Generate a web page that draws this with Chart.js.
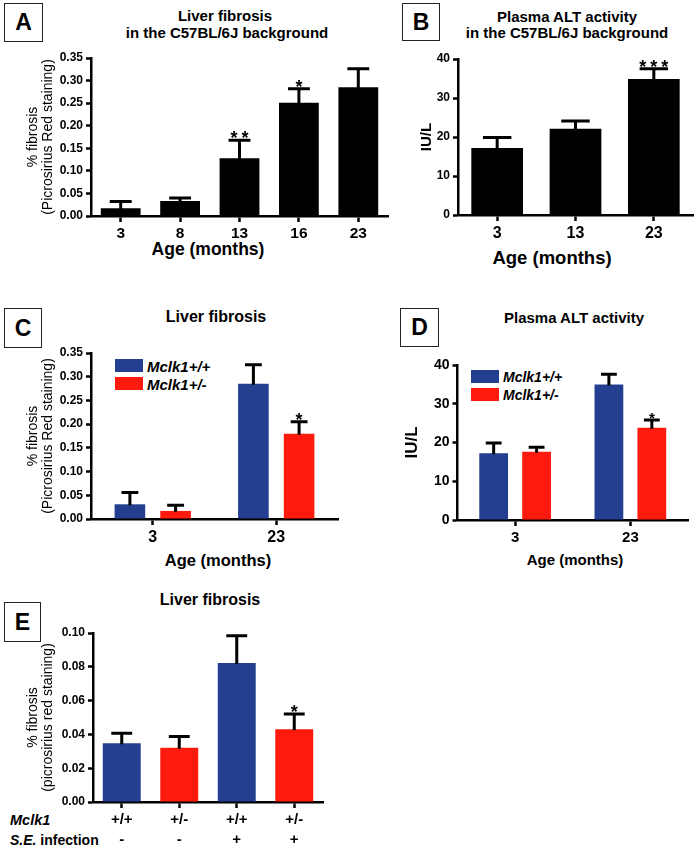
<!DOCTYPE html>
<html><head><meta charset="utf-8">
<script src="https://cdn.jsdelivr.net/npm/chart.js@4.4.1/dist/chart.umd.min.js"></script>
<style>
html,body{margin:0;padding:0;background:#fff;}
#page{position:relative;width:697px;height:849px;overflow:hidden;font-family:"Liberation Sans",Arial,sans-serif;color:#000;background:#fff;}
canvas{position:absolute;}
.box{position:absolute;border:1px solid #222;box-sizing:border-box;font-weight:bold;font-size:23px;display:flex;align-items:center;justify-content:center;background:#fff;}
.t{position:absolute;font-weight:bold;white-space:nowrap;transform:translate(-50%,-50%);line-height:1;}
.l{position:absolute;font-weight:bold;white-space:nowrap;transform:translate(0,-50%);line-height:1;}
.sw{position:absolute;}
</style>
</head><body>
<div id="page">
  <div class="box" style="left:4px;top:3px;width:39px;height:39px;">A</div>
  <div class="box" style="left:402px;top:3px;width:38px;height:38px;">B</div>
  <div class="box" style="left:4px;top:308px;width:38px;height:40px;">C</div>
  <div class="box" style="left:400px;top:308px;width:39px;height:39px;">D</div>
  <div class="box" style="left:4px;top:602px;width:37px;height:40px;">E</div>

  <div class="t" style="left:225px;top:15px;font-size:15px;">Liver fibrosis</div>
  <div class="t" style="left:227px;top:32px;font-size:15px;">in the C57BL/6J background</div>
  <div class="t" style="left:567px;top:16px;font-size:15px;">Plasma ALT activity</div>
  <div class="t" style="left:567px;top:32px;font-size:15px;">in the C57BL/6J background</div>
  <div class="t" style="left:216px;top:317px;font-size:16px;">Liver fibrosis</div>
  <div class="t" style="left:574px;top:317px;font-size:15px;">Plasma ALT activity</div>
  <div class="t" style="left:210px;top:600px;font-size:16px;">Liver fibrosis</div>

  <div class="t" style="left:208px;top:250px;font-size:17.5px;">Age (months)</div>
  <div class="t" style="left:552px;top:258px;font-size:18.5px;">Age (months)</div>
  <div class="t" style="left:218px;top:560px;font-size:16.5px;">Age (months)</div>
  <div class="t" style="left:575px;top:559px;font-size:15px;">Age (months)</div>

  <div class="l" style="left:10px;top:820px;font-size:14.5px;font-style:italic;">Mclk1</div>
  <div class="l" style="left:10px;top:840px;font-size:14px;"><span style="font-style:italic">S.E.</span> infection</div>

  <div id="legC"></div>
  <div id="legD"></div>

  <canvas id="cA"></canvas>
  <canvas id="cB"></canvas>
  <canvas id="cC"></canvas>
  <canvas id="cD"></canvas>
  <canvas id="cE"></canvas>
</div>
<script>
// ---------------- DATA ----------------
const agesA = ['3', '8', '13', '16', '23'];
const fibrosisA = [0.017, 0.033, 0.128, 0.251, 0.285];
const fibrosisA_sem = [0.015, 0.007, 0.040, 0.031, 0.041];
const starsA = ['', '', '**', '*', ''];

const agesB = ['3', '13', '23'];
const altB = [17.2, 22.1, 34.9];
const altB_sem = [2.7, 2.0, 2.6];
const starsB = ['', '', '***'];

const seriesNames = ['Mclk1+/+', 'Mclk1+/-'];

const agesC = ['3', '23'];
const fibrosisC_wt = [0.031, 0.285];
const fibrosisC_wt_sem = [0.025, 0.040];
const fibrosisC_het = [0.017, 0.180];
const fibrosisC_het_sem = [0.012, 0.025];
const starsC_het = ['', '*'];

const agesD = ['3', '23'];
const altD_wt = [17.2, 35.0];
const altD_wt_sem = [2.7, 2.6];
const altD_het = [17.6, 23.8];
const altD_het_sem = [1.2, 2.0];
const starsD_het = ['', '*'];

const genotypeE = ['+/+', '+/-', '+/+', '+/-'];
const infectionE = ['-', '-', '+', '+'];
const fibrosisE = [0.0347, 0.0321, 0.0822, 0.0430];
const fibrosisE_sem = [0.0060, 0.0066, 0.0162, 0.0090];
const starsE = ['', '', '', '*'];

// ---------------- STYLE ----------------
const FONT = '"Liberation Sans", Arial, sans-serif';
const BLACK = '#000000';
const BLUE = '#243f8f';
const RED = '#fe1a0c';

// error bars + significance stars, drawn through the scales
const errorBarPlugin = {
  id: 'errorBars',
  afterDatasetsDraw(chart, args, opts) {
    const ctx = chart.ctx;
    const ys = chart.scales.y;
    chart.data.datasets.forEach((ds, di) => {
      if (!ds.errors) return;
      const meta = chart.getDatasetMeta(di);
      meta.data.forEach((bar, i) => {
        const v = ds.data[i], e = ds.errors[i];
        const yBar = ys.getPixelForValue(v);
        const yTop = ys.getPixelForValue(v + e);
        const cw = bar.width * (opts.capRatio || 0.55);
        ctx.save();
        ctx.strokeStyle = '#000';
        ctx.lineWidth = 3;
        ctx.beginPath();
        ctx.moveTo(bar.x, yBar + 1);
        ctx.lineTo(bar.x, yTop);
        ctx.moveTo(bar.x - cw / 2, yTop);
        ctx.lineTo(bar.x + cw / 2, yTop);
        ctx.stroke();
        const s = ds.stars ? ds.stars[i] : '';
        if (s) {
          ctx.fillStyle = '#000';
          ctx.font = 'bold ' + (opts.starSize || 18) + 'px ' + FONT;
          ctx.textAlign = 'center';
          ctx.textBaseline = 'alphabetic';
          const n = s.length, sp = opts.starSpacing || 11;
          for (let k = 0; k < n; k++) {
            ctx.fillText('*', bar.x + (k - (n - 1) / 2) * sp, yTop + (opts.starOffset || 3));
          }
        }
        ctx.restore();
      });
    });
  }
};

function makeChart(id, r, datasets, labels, yOpt, xOpt, barOpt, plugOpt) {
  const cv = document.getElementById(id);
  const cl = r.L - r.yW, ct = r.T - r.pt;
  const w = Math.round(r.R + r.pr - cl), h = Math.round(r.B + r.xH - ct);
  cv.width = w; cv.height = h;
  cv.style.left = cl + 'px'; cv.style.top = ct + 'px';
  cv.style.width = w + 'px'; cv.style.height = h + 'px';
  return new Chart(cv, {
    type: 'bar',
    data: { labels: labels, datasets: datasets.map(d => Object.assign({
      borderWidth: 0, barPercentage: barOpt.bp, categoryPercentage: barOpt.cp
    }, d)) },
    plugins: [errorBarPlugin],
    options: {
      responsive: false, animation: false, devicePixelRatio: 1,
      layout: { padding: { left: 0, top: r.pt, right: r.pr, bottom: 0 } },
      plugins: { legend: { display: false }, tooltip: { enabled: false }, title: { display: false },
                 errorBars: plugOpt || {} },
      scales: {
        x: {
          offset: true,
          grid: { offset: false, drawOnChartArea: false, drawTicks: true, tickLength: 6, tickWidth: 2.5, color: BLACK },
          border: { display: true, color: BLACK, width: 2.5 },
          ticks: { color: BLACK, font: { family: FONT, weight: 'bold', size: xOpt.size, lineHeight: xOpt.lh || 1.2 },
                   padding: xOpt.pad, maxRotation: 0, autoSkip: false },
          title: { display: false },
          afterFit(s) { s.height = r.xH; }
        },
        y: {
          min: 0, max: yOpt.max,
          ticks: { stepSize: yOpt.step, color: BLACK, padding: 3,
                   font: { family: FONT, weight: 'bold', size: yOpt.size },
                   callback: v => Number(v).toFixed(yOpt.dec) },
          grid: { drawOnChartArea: false, drawTicks: true, tickLength: 5, tickWidth: 2.5, color: BLACK },
          border: { display: true, color: BLACK, width: 2.5 },
          title: { display: true, text: yOpt.title, color: BLACK,
                   font: { family: FONT, weight: yOpt.tweight, size: yOpt.tsize, lineHeight: yOpt.tlh || 1.1 },
                   padding: { top: yOpt.tpad, bottom: 0 } },
          afterFit(s) { s.width = r.yW; }
        }
      }
    }
  });
}

// Panel A
makeChart('cA', { L: 91, R: 388, T: 58, B: 216, yW: 91, pt: 20, pr: 5, xH: 30 },
  [{ data: fibrosisA, errors: fibrosisA_sem, stars: starsA, backgroundColor: BLACK }],
  agesA,
  { max: 0.35, step: 0.05, dec: 2, size: 12, title: ['% fibrosis', '(Picrosirius Red staining)'], tweight: 'normal', tsize: 14, tpad: 25.3 },
  { size: 15.5, pad: 2 },
  { bp: 0.67, cp: 1 }, { starSpacing: 11, starOffset: 4 });

// Panel B
makeChart('cB', { L: 458, R: 693, T: 59, B: 215, yW: 58, pt: 20, pr: 3, xH: 30 },
  [{ data: altB, errors: altB_sem, stars: starsB, backgroundColor: BLACK }],
  agesB,
  { max: 40, step: 10, dec: 0, size: 12, title: 'IU/L', tweight: 'bold', tsize: 15, tpad: 18, tlh: 1.2 },
  { size: 16, pad: 3 },
  { bp: 0.66, cp: 1 }, { starSpacing: 11, starOffset: 4 });

// Panel C
makeChart('cC', { L: 91, R: 338, T: 353, B: 519, yW: 91, pt: 20, pr: 5, xH: 30 },
  [{ label: seriesNames[0], data: fibrosisC_wt, errors: fibrosisC_wt_sem, backgroundColor: BLUE },
   { label: seriesNames[1], data: fibrosisC_het, errors: fibrosisC_het_sem, stars: starsC_het, backgroundColor: RED }],
  agesC,
  { max: 0.35, step: 0.05, dec: 2, size: 12, title: ['% fibrosis', '(Picrosirius Red staining)'], tweight: 'normal', tsize: 14, tpad: 25.3 },
  { size: 16, pad: 3 },
  { bp: 0.67, cp: 0.74 }, { starOffset: 4, starSize: 18 });

// Panel D
makeChart('cD', { L: 457.5, R: 688, T: 365, B: 520, yW: 57.5, pt: 20, pr: 5, xH: 30 },
  [{ label: seriesNames[0], data: altD_wt, errors: altD_wt_sem, backgroundColor: BLUE },
   { label: seriesNames[1], data: altD_het, errors: altD_het_sem, stars: starsD_het, backgroundColor: RED }],
  agesD,
  { max: 40, step: 10, dec: 0, size: 14, title: 'IU/L', tweight: 'bold', tsize: 17, tpad: 1.8, tlh: 1.2 },
  { size: 15, pad: 3 },
  { bp: 0.67, cp: 0.745 }, { starOffset: 3, starSize: 15 });

// Panel E
makeChart('cE', { L: 93, R: 323, T: 633, B: 802, yW: 93, pt: 20, pr: 5, xH: 47 },
  [{ data: fibrosisE, errors: fibrosisE_sem, stars: starsE, backgroundColor: [BLUE, RED, BLUE, RED] }],
  genotypeE.map((g, i) => [g, infectionE[i]]),
  { max: 0.10, step: 0.02, dec: 2, size: 12, title: ['% fibrosis', '(picrosirius red staining)'], tweight: 'normal', tsize: 14, tpad: 25.3 },
  { size: 15, pad: 2, lh: 1.33 },
  { bp: 0.66, cp: 1 }, { starOffset: 4, starSize: 18 });

// Legends for C and D (HTML, built from the series names / colours)
function legend(id, x, y1, y2, sw, sh, fs) {
  const el = document.getElementById(id);
  const cols = [BLUE, RED], ys = [y1, y2];
  let html = '';
  seriesNames.forEach((n, i) => {
    html += '<div class="sw" style="left:' + x + 'px;top:' + ys[i] + 'px;width:' + sw + 'px;height:' + sh + 'px;background:' + cols[i] + ';"></div>';
    html += '<div class="l" style="left:' + (x + sw + 4) + 'px;top:' + (ys[i] + sh / 2) + 'px;font-size:' + fs + 'px;font-style:italic;">' + n + '</div>';
  });
  el.innerHTML = html;
}
legend('legC', 115, 359, 377, 28, 13, 15);
legend('legD', 471, 370, 388, 28, 13, 14);
</script>
</body></html>
